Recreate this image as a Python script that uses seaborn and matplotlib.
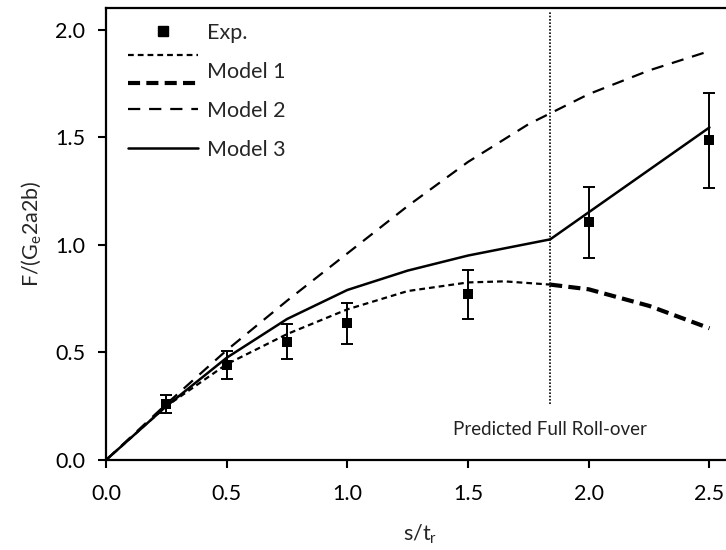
import matplotlib
matplotlib.use('Agg')
import matplotlib.pyplot as plt
from matplotlib.legend_handler import HandlerBase
from matplotlib.lines import Line2D
import seaborn as sns

# experimental points with error bars
exp_x = [0.25, 0.5, 0.75, 1.0, 1.5, 2.0, 2.5]
exp_y = [0.26, 0.44, 0.55, 0.635, 0.77, 1.105, 1.485]
exp_err = [0.04, 0.065, 0.083, 0.095, 0.115, 0.165, 0.22]

# Model 1 before roll-over (thin) and after (thick)
m1_x = [0, 0.25, 0.5, 0.75, 1.0, 1.25, 1.5, 1.65, 1.84]
m1_y = [0, 0.25, 0.445, 0.585, 0.70, 0.785, 0.825, 0.83, 0.815]
m1b_x = [1.84, 2.0, 2.25, 2.5]
m1b_y = [0.815, 0.793, 0.716, 0.612]

# Model 2
m2_x = [0, 0.25, 0.5, 0.75, 1.0, 1.25, 1.5, 1.75, 2.0, 2.25, 2.5]
m2_y = [0, 0.26, 0.51, 0.74, 0.96, 1.18, 1.385, 1.56, 1.70, 1.81, 1.90]

# Model 3
m3_x = [0, 0.25, 0.5, 0.75, 1.0, 1.25, 1.5, 1.84, 2.5]
m3_y = [0, 0.25, 0.475, 0.655, 0.79, 0.88, 0.95, 1.025, 1.545]

# predicted full roll-over marker
rollover_x = 1.84
rollover_ymin, rollover_ymax = 0.26, 2.08
rollover_label = 'Predicted Full Roll-over'
rollover_label_y = 0.14

x_ticks = [0.0, 0.5, 1.0, 1.5, 2.0, 2.5]
y_ticks = [0.0, 0.5, 1.0, 1.5, 2.0]

sns.set_theme(style='ticks')
plt.rcParams['font.family'] = ['Lato', 'DejaVu Sans']
plt.rcParams['mathtext.default'] = 'regular'

FS = 15.5
thin_ls = (0, (2.6, 1.8))
thick_ls = (0, (2.9, 1.5))
m2_ls = (0, (5.5, 4.0))

fig = plt.figure(figsize=(7.26, 5.5), dpi=100)
ax = fig.add_axes([106 / 726, 90 / 550, 627.6 / 726, 452 / 550])

sns.lineplot(x=m1_x, y=m1_y, ax=ax, color='black', linewidth=1.6, linestyle=thin_ls)
sns.lineplot(x=m1b_x, y=m1b_y, ax=ax, color='black', linewidth=3.0, linestyle=thick_ls)
sns.lineplot(x=m2_x, y=m2_y, ax=ax, color='black', linewidth=1.6, linestyle=m2_ls)
sns.lineplot(x=m3_x, y=m3_y, ax=ax, color='black', linewidth=1.8)

ax.errorbar(exp_x, exp_y, yerr=exp_err, fmt='none', ecolor='black',
            elinewidth=1.4, capsize=4, capthick=1.4)
sns.scatterplot(x=exp_x, y=exp_y, ax=ax, marker='s', color='black', s=50,
                edgecolor='black', linewidth=0, zorder=5)

ax.vlines(rollover_x, rollover_ymin, rollover_ymax, colors='black',
          linestyles=(0, (1, 1)), linewidth=1.2)
ax.text(rollover_x, rollover_label_y, rollover_label, ha='center', va='center',
        fontsize=13.5, color='#222222')

ax.set_xlim(0, 2.6)
ax.set_ylim(0, 2.1)
ax.set_xticks(x_ticks)
ax.set_yticks(y_ticks)
ax.set_xticklabels([f'{v:.1f}' for v in x_ticks])
ax.set_yticklabels([f'{v:.1f}' for v in y_ticks])
ax.tick_params(direction='out', length=6, width=1.5, labelsize=FS, pad=9,
               colors='black')
ax.tick_params(axis='x', pad=11)
for sp in ax.spines.values():
    sp.set_visible(True)
    sp.set_linewidth(1.6)
    sp.set_color('black')
ax.set_xlabel('s/t$_\\mathregular{r}$', fontsize=FS, labelpad=14)
ax.set_ylabel('F/(G$_\\mathregular{e}$2a2b)', fontsize=FS, labelpad=9)


class TwoLines(HandlerBase):
    def create_artists(self, legend, orig_handle, xdescent, ydescent,
                       width, height, fontsize, trans):
        arts = []
        for line, dy in zip(orig_handle, [0.72, -0.6]):
            y = height / 2 - ydescent + dy * fontsize
            l = Line2D([-xdescent, width - xdescent], [y, y])
            l.update_from(line)
            l.set_transform(trans)
            arts.append(l)
        return arts


h_exp = Line2D([], [], marker='s', linestyle='none', color='black', markersize=7)
h_thin = Line2D([], [], color='black', linewidth=1.6, linestyle=thin_ls)
h_thick = Line2D([], [], color='black', linewidth=3.0, linestyle=thick_ls)
h_m2 = Line2D([], [], color='black', linewidth=1.6, linestyle=m2_ls)
h_m3 = Line2D([], [], color='black', linewidth=1.8)

ax.legend(handles=[h_exp, (h_thin, h_thick), h_m2, h_m3],
          labels=['Exp.', 'Model 1', 'Model 2', 'Model 3'],
          handler_map={tuple: TwoLines()},
          loc='upper left', bbox_to_anchor=(22 / 627.6, 0.967),
          borderaxespad=0, borderpad=0, frameon=False, fontsize=FS,
          handlelength=3.25, handletextpad=0.4, labelspacing=0.88)

fig.savefig('out.png', dpi=100)
